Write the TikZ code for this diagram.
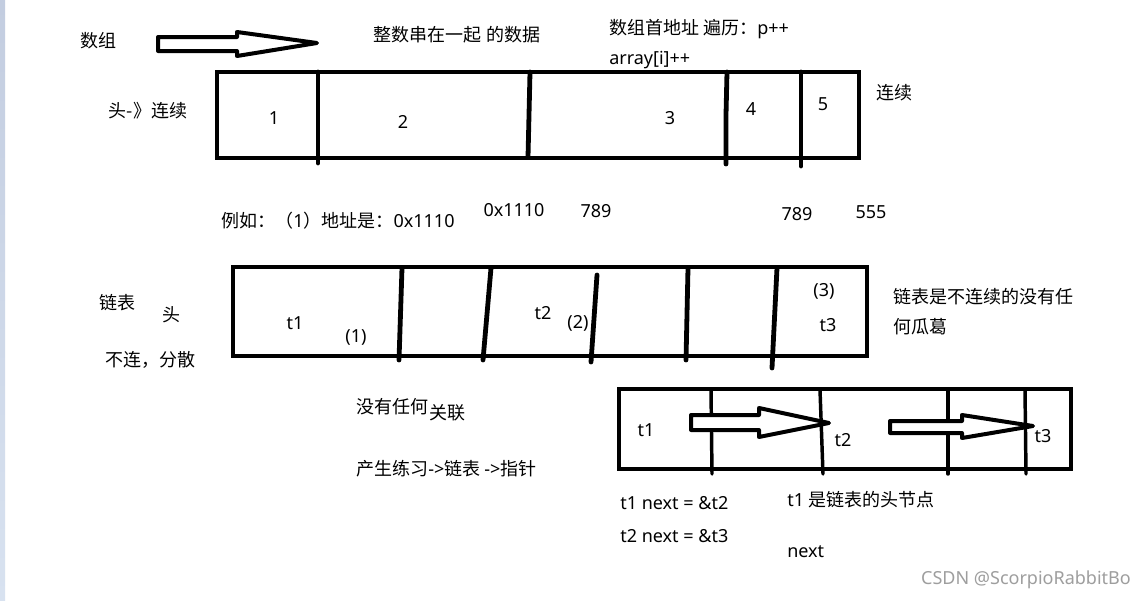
\documentclass[tikz,border=0pt]{standalone}
\usepackage{fontspec}
\setmainfont{Noto Sans CJK SC}
\newfontfamily\lat{Noto Sans}
\begin{document}
\begin{tikzpicture}[x=0.75pt,y=-0.75pt,
  txt/.style={inner sep=0pt,font=\fontsize{13.5}{16}\selectfont,text=black},
  lt/.style={txt,anchor=west},
  thickbox/.style={draw=black,line width=3.6pt,line join=miter},
  divider/.style={draw=black,line width=3.6pt,line cap=round},
  thinbox/.style={draw=black,line width=3pt},
  thindiv/.style={draw=black,line width=2.6pt,line cap=round},
  blockarrow/.style={draw=black,line width=3pt,line join=round,fill=white},
  wm/.style={inner sep=0pt,font=\fontsize{13.5}{16}\selectfont\lat,text=black!38,anchor=east}]
\useasboundingbox (0,0) rectangle (1145,600);
\fill[white] (0,0) rectangle (1145,600);
\shade[top color={rgb,255:red,195;green,205;blue,224},bottom color={rgb,255:red,216;green,226;blue,240}] (0,0) rectangle (5,600);

% ---------- top part ----------
\node[txt] (shuzu) at (98,41) {数组};
\draw[blockarrow] (158,37) -- (237,37) -- (237,32) -- (317,43) -- (237,56) -- (237,51) -- (158,51) -- cycle;
\node[txt] (zhengshu) at (457,35) {整数串在一起 的数据};
\node[lt] (shouaddr) at (609,29) {数组首地址 遍历：{\lat p++}};
\node[lt] (arrayi) at (609,60) {\lat array[i]++};
\node[txt] (toulx) at (148,111) {头-》连续};
\node[txt] (lianxu) at (894,93) {连续};

\draw[thickbox] (217,72) rectangle (859,158);
\draw[divider] (318,72) -- (318,163);
\draw[divider] (530,72) -- (529,115) -- (528,157);
\draw[divider] (727,72) -- (726,115) -- (726,164);
\draw[divider] (801,72) -- (801,166);
\node[txt] (a1) at (274,118) {\lat 1};
\node[txt] (a2) at (403,122) {\lat 2};
\node[txt] (a3) at (670,118) {\lat 3};
\node[txt] (a4) at (751,109) {\lat 4};
\node[txt] (a5) at (823,104) {\lat 5};

\node[lt] (liru) at (221,221) {例如：（{\lat 1}）地址是：{\lat 0x1110}};
\node[txt] (addr2) at (514,210) {\lat 0x1110};
\node[txt] (n789a) at (596,211) {\lat 789};
\node[txt] (n789b) at (797,214) {\lat 789};
\node[txt] (n555) at (871,212) {\lat 555};

% ---------- linked list part ----------
\node[txt] (lianbiao) at (117,303) {链表};
\node[txt] (tou) at (171,315) {头};
\node[txt] (bulian) at (150,360) {不连，分散};

\draw[thickbox] (233,267) rectangle (867,356);
\draw[divider] (402,268) -- (399,360);
\draw[divider] (491,268) -- (483,360);
\draw[divider] (597,275) -- (591,362);
\draw[divider] (688,268) -- (686,360);
\draw[divider] (777,268) -- (772,368);
\node[txt] (b1) at (295,323) {\lat t1};
\node[txt] (p1) at (356,337) {\lat (1)};
\node[txt] (b2) at (543,313) {\lat t2};
\node[txt] (p2) at (578,323) {\lat (2)};
\node[txt] (p3) at (824,291) {\lat (3)};
\node[txt] (b3) at (828,325) {\lat t3};
\node[lt] (note1) at (893,297) {链表是不连续的没有任};
\node[lt] (note2) at (893,327) {何瓜葛};

\node[lt] (meiyou) at (356,407) {没有任何};
\node[lt] (guanlian) at (429,413) {关联};
\node[lt] (chansheng) at (356,469) {产生练习{\lat ->}链表 {\lat ->}指针};

\draw[thinbox] (619,389) rectangle (1071,469);
\draw[thindiv] (711,390) -- (712,474);
\draw[thindiv] (820,390) -- (823,474);
\draw[thindiv] (948,390) -- (948,474);
\draw[thindiv] (1025,390) -- (1026,474);
\draw[blockarrow] (691,415) -- (759,415) -- (759,408) -- (829,423) -- (759,437) -- (759,430) -- (691,430) -- cycle;
\draw[blockarrow] (890,421) -- (962,421) -- (962,415) -- (1033,426) -- (962,438) -- (962,433) -- (890,433) -- cycle;
\node[txt] (c1) at (646,430) {\lat t1};
\node[txt] (c2) at (843,440) {\lat t2};
\node[txt] (c3) at (1043,436) {\lat t3};

\node[lt] (next1) at (620,503) {\lat t1 next = \&t2};
\node[lt] (next2) at (620,536) {\lat t2 next = \&t3};
\node[lt] (head) at (787,500) {{\lat t1} 是链表的头节点};
\node[lt] (nextw) at (787,552) {\lat next};
\node[wm] (wmark) at (1131,580) {CSDN @ScorpioRabbitBo};
\end{tikzpicture}
\end{document}
